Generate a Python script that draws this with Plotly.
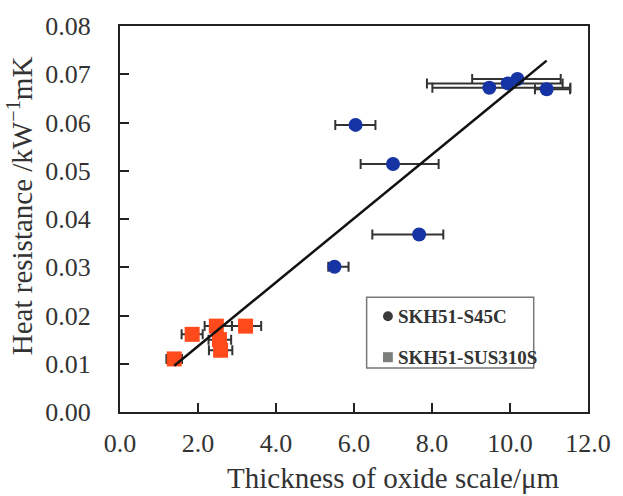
import plotly.graph_objects as go

# SKH51-S45C (blue circles)
s45c_x = [9.47, 9.94, 10.19, 10.94, 6.04, 7.00, 7.67, 5.50]
s45c_y = [0.0672, 0.0681, 0.0690, 0.0669, 0.0595, 0.0514, 0.0368, 0.0301]
s45c_err_minus = [1.46, 2.07, 1.16, 0.30, 0.52, 0.83, 1.20, 0.16]
s45c_err_plus = [2.08, 1.41, 1.11, 0.60, 0.51, 1.17, 0.62, 0.36]

# SKH51-SUS310S (red squares)
sus_x = [1.39, 1.85, 2.47, 2.55, 2.58, 3.22]
sus_y = [0.0110, 0.0161, 0.0178, 0.0150, 0.0128, 0.0178]
sus_err_minus = [0.20, 0.27, 0.30, 0.28, 0.30, 0.35]
sus_err_plus = [0.20, 0.27, 0.40, 0.30, 0.30, 0.40]

# Linear fit
fit_slope = 0.00662
fit_intercept = 0.0004
fit_x_range = [1.39, 10.94]

x_ticks = [0, 2, 4, 6, 8, 10, 12]
y_ticks = [0.00, 0.01, 0.02, 0.03, 0.04, 0.05, 0.06, 0.07, 0.08]

series_names = ["SKH51-S45C", "SKH51-SUS310S"]

FONT = "Liberation Serif, Times New Roman, serif"
TXT = "#333333"
err_color = "#333333"

fig = go.Figure()

fig.add_trace(go.Scatter(
    x=s45c_x, y=s45c_y, mode="markers", showlegend=False, name=series_names[0],
    marker=dict(symbol="circle", size=14, color="#1634A4"),
    error_x=dict(type="data", symmetric=False, array=s45c_err_plus,
                 arrayminus=s45c_err_minus, color=err_color, thickness=2, width=5),
))
fig.add_trace(go.Scatter(
    x=sus_x, y=sus_y, mode="markers", showlegend=False, name=series_names[1],
    marker=dict(symbol="square", size=15, color="#FF4A1C"),
    error_x=dict(type="data", symmetric=False, array=sus_err_plus,
                 arrayminus=sus_err_minus, color=err_color, thickness=2, width=5),
))

fx = fit_x_range
fy = [fit_slope * v + fit_intercept for v in fx]
fig.add_trace(go.Scatter(x=fx, y=fy, mode="lines", showlegend=False,
                         line=dict(color="#111111", width=2.5)))

axis_common = dict(
    showline=True, linecolor="#222222", linewidth=2, mirror=True,
    ticks="inside", ticklen=9, tickwidth=1.5, tickcolor="#222222",
    showgrid=False, zeroline=False, ticklabeloverflow="allow",
    tickfont=dict(family=FONT, size=26, color=TXT),
)

fig.update_layout(
    width=623, height=496,
    margin=dict(l=120, r=23, t=25, b=84),
    paper_bgcolor="white", plot_bgcolor="white",
    showlegend=False,
    xaxis=dict(range=[0, 12], tickvals=x_ticks, tickformat=".1f",
               ticklabelstandoff=7, **axis_common),
    yaxis=dict(range=[0, 0.08], tickvals=y_ticks, tickformat=".2f",
               ticklabelstandoff=22, **axis_common),
)

# axis titles
fig.add_annotation(text="Thickness of oxide scale/μm", xref="paper", yref="paper",
                   x=0.583, y=-0.17, xanchor="center", yanchor="middle", showarrow=False,
                   font=dict(family=FONT, size=29, color=TXT))
fig.add_annotation(text="Heat resistance /kW<sup>−1</sup>mK", xref="paper", yref="paper",
                   x=-0.212, y=0.535, xanchor="center", yanchor="middle", showarrow=False,
                   textangle=-90, font=dict(family=FONT, size=29, color=TXT))

# legend box (custom, to match spacing of the original)
fig.add_shape(type="rect", xref="paper", yref="paper", x0=0.527, x1=0.884, y0=0.114, y1=0.297,
              line=dict(color="#777777", width=1.5), fillcolor="white", layer="above")
fig.add_shape(type="circle", xref="paper", yref="paper", x0=0.562, x1=0.583, y0=0.235, y1=0.261,
              line=dict(width=0), fillcolor="#3a3a3a", layer="above")
fig.add_shape(type="rect", xref="paper", yref="paper", x0=0.562, x1=0.583, y0=0.129, y1=0.155,
              line=dict(width=0), fillcolor="#7a7f7c", layer="above")
for name, yy in zip(series_names, [0.248, 0.142]):
    fig.add_annotation(text="<b>" + name + "</b>", xref="paper", yref="paper",
                       x=0.589, y=yy, xanchor="left", yanchor="middle", showarrow=False,
                       font=dict(family=FONT, size=19, color=TXT))

fig.write_html("out.html")
